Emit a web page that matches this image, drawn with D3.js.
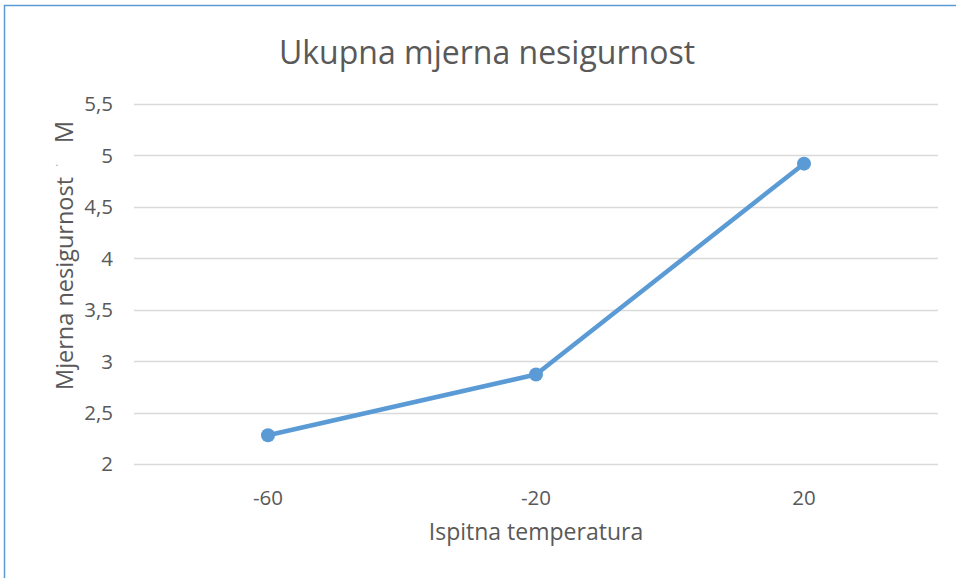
<!DOCTYPE html>
<html>
<head>
<meta charset="utf-8">
<script src="https://cdn.jsdelivr.net/npm/d3@7"></script>
<style>
  body { margin: 0; background: #fff; }
  text { font-family: "Open Sans", sans-serif; fill: #595959; }
</style>
</head>
<body>
<div id="chart"></div>
<script>
// data
const temperatures = ['-60', '-20', '20'];
const uncertainty = [2.28, 2.87, 4.92];
const yTicks = [2, 2.5, 3, 3.5, 4, 4.5, 5, 5.5];

const W = 956, H = 578;
const margin = {t:104, r:18, b:114, l:134};
const w = W - margin.l - margin.r;
const h = H - margin.t - margin.b;

const svg = d3.select('#chart').append('svg')
	.attr('width', W)
	.attr('height', H);

// chart border
svg.append('rect')
	.attr('x', 4.5).attr('y', 5.5)
	.attr('width', 1200).attr('height', 1200)
	.style('fill', 'none')
	.style('stroke', '#5b9bd5')
	.style('stroke-width', 1.5);

const x = d3.scaleBand().domain(temperatures).range([0, w]);
const y = d3.scaleLinear().domain([2, 5.5]).range([h, 0]);
const fmt = d => String(d).replace('.', ',');

const plot = svg.append('g')
	.attr('transform', `translate(${margin.l}, ${margin.t})`);

// gridlines
plot.selectAll('.grid')
	.data(yTicks)
	.enter()
	.append('line')
	.attr('class', 'grid')
	.attr('x1', 0).attr('x2', w)
	.attr('y1', d => Math.round(y(d)) + 0.5)
	.attr('y2', d => Math.round(y(d)) + 0.5)
	.style('stroke', '#d9d9d9')
	.style('stroke-width', 1.3);

// y tick labels
plot.selectAll('.ylab')
	.data(yTicks)
	.enter()
	.append('text')
	.attr('x', -21)
	.attr('y', d => y(d))
	.attr('dy', '0.36em')
	.attr('text-anchor', 'end')
	.style('font-size', '20.5px')
	.text(fmt);

// x tick labels
plot.selectAll('.xlab')
	.data(temperatures)
	.enter()
	.append('text')
	.attr('x', d => x(d) + x.bandwidth()/2)
	.attr('y', h + 41)
	.attr('text-anchor', 'middle')
	.style('font-size', '20.5px')
	.text(d => d);

const pts = temperatures.map((t, i) => [x(t) + x.bandwidth()/2, y(uncertainty[i])]);

plot.append('path')
	.datum(pts)
	.attr('d', d3.line())
	.style('fill', 'none')
	.style('stroke', '#5b9bd5')
	.style('stroke-width', 4.5)
	.style('stroke-linejoin', 'round');

plot.selectAll('.dot')
	.data(pts)
	.enter()
	.append('circle')
	.attr('cx', d => d[0])
	.attr('cy', d => d[1])
	.attr('r', 7)
	.style('fill', '#5b9bd5');

// titles
svg.append('text')
	.attr('x', 487).attr('y', 64)
	.attr('text-anchor', 'middle')
	.style('font-size', '32px')
	.text('Ukupna mjerna nesigurnost');

svg.append('text')
	.attr('x', 536).attr('y', 540)
	.attr('text-anchor', 'middle')
	.style('font-size', '23px')
	.text('Ispitna temperatura');

const ylab = svg.append('text')
	.attr('transform', 'translate(73, 390) rotate(-90)')
	.attr('text-anchor', 'start')
	.style('font-size', '23.5px');
ylab.append('tspan').text('Mjerna nesigurnost');
ylab.append('tspan').attr('dx', 11).attr('dy', -12).style('font-size', '8px').text('\'');
ylab.append('tspan').attr('dx', 21).attr('dy', 12).style('font-size', '25px').text('M');
</script>
</body>
</html>
